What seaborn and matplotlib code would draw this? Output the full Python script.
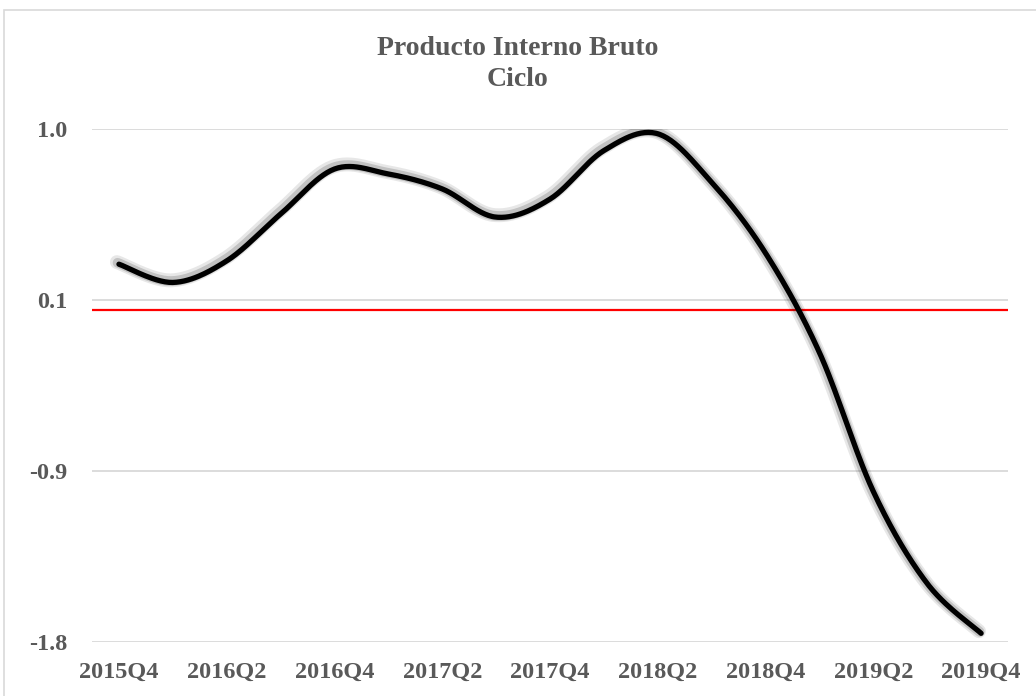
import numpy as np
import matplotlib
matplotlib.use("Agg")
import matplotlib.pyplot as plt
import matplotlib.patheffects as pe
from matplotlib.patches import Rectangle
import seaborn as sns
import pandas as pd

# quarterly cycle of GDP
quarters = ["2015Q4", "2016Q1", "2016Q2", "2016Q3", "2016Q4", "2017Q1", "2017Q2",
            "2017Q3", "2017Q4", "2018Q1", "2018Q2", "2018Q3", "2018Q4", "2019Q1",
            "2019Q2", "2019Q3", "2019Q4"]
ciclo = [0.248, 0.149, 0.266, 0.520, 0.764, 0.737, 0.656, 0.503, 0.601,
         0.864, 0.955, 0.692, 0.308, -0.231, -0.984, -1.483, -1.753]
tick_labels = quarters[::2]
ytick_values = [-1.80, -0.873, 0.054, 0.981]

GREY = "#595959"


def smooth(y, n=30):
    # excel-like smoothed line (bezier through the points)
    p = np.column_stack([np.arange(len(y)), np.asarray(y, float)])
    pts = np.vstack([p[0], p, p[-1]])
    out = []
    t = np.linspace(0, 1, n)[:, None]
    for i in range(1, len(pts) - 2):
        p0, p3 = pts[i], pts[i + 1]
        c1 = p0 + (pts[i + 1] - pts[i - 1]) / 6
        c2 = p3 - (pts[i + 2] - pts[i]) / 6
        seg = (1 - t) ** 3 * p0 + 3 * (1 - t) ** 2 * t * c1 + 3 * (1 - t) * t ** 2 * c2 + t ** 3 * p3
        out.append(seg if i == 1 else seg[1:])
    out = np.vstack(out)
    return out[:, 0], out[:, 1]


sns.set_theme(style="white")
plt.rcParams['font.family'] = ['Liberation Serif', 'DejaVu Serif']

fig = plt.figure(figsize=(10.36, 6.96), dpi=100)
ax = fig.add_axes([0.0888, 0.0776, 0.8842, 0.7371])

xs, ys = smooth(ciclo)
df = pd.DataFrame({"x": xs, "y": ys})
sns.lineplot(data=df, x="x", y="y", ax=ax, color="black", linewidth=3.8,
             estimator=None, sort=False, solid_capstyle="round",
             path_effects=[pe.SimpleLineShadow(offset=(-1.5, 1.5), shadow_color="k", alpha=0.10, linewidth=10),
                           pe.SimpleLineShadow(offset=(-1, 1), shadow_color="k", alpha=0.18, linewidth=7),
                           pe.Normal()])

ax.axhline(0, color="red", linewidth=1.6, zorder=1)

ax.set_xlim(-0.5, len(quarters) - 0.5)
ax.set_ylim(ytick_values[0], ytick_values[-1])
ax.set_yticks(ytick_values)
ax.set_yticklabels([f"{v:.1f}" for v in ytick_values])
ax.set_xticks(range(0, len(quarters), 2))
ax.set_xticklabels(tick_labels)
ax.yaxis.grid(True, color="#d9d9d9", linewidth=1.3, zorder=0)
ax.set_axisbelow(True)
for s in ax.spines.values():
    s.set_visible(False)
ax.tick_params(axis="both", length=0, labelsize=17.5, labelcolor=GREY)
ax.tick_params(axis="y", pad=18)
ax.tick_params(axis="x", pad=14.5)
for lab in ax.get_xticklabels() + ax.get_yticklabels():
    lab.set_fontweight("bold")
ax.set_xlabel("")
ax.set_ylabel("")

fig.text(0.5, 0.908, "Producto Interno Bruto\nCiclo", ha="center", va="center",
         fontsize=20, fontweight="bold", color=GREY, linespacing=1.3)

fig.patches.append(Rectangle((4 / 1036, -0.1), 1.2, (686 / 696) + 0.1, transform=fig.transFigure,
                             fill=False, edgecolor="#d9d9d9", linewidth=1.2))

fig.savefig("out.png", dpi=100)
